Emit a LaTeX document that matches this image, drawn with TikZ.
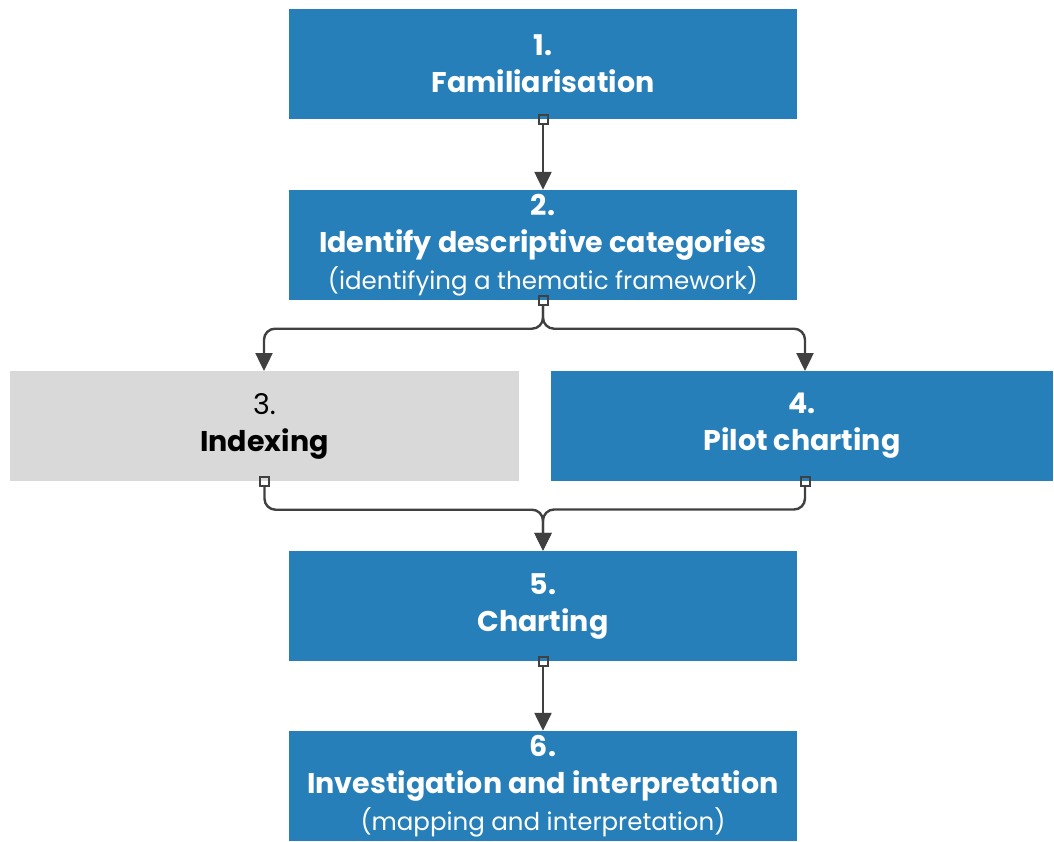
\documentclass[tikz,border=0pt]{standalone}
\usepackage{fontspec}
\setmainfont{Poppins}
\usetikzlibrary{arrows.meta}
\definecolor{stepblue}{RGB}{39,127,185}
\definecolor{stepgray}{RGB}{217,217,217}
\definecolor{linkgray}{RGB}{64,64,64}
\begin{document}
\begin{tikzpicture}[x=1pt,y=-1pt,
  box/.style={minimum width=508pt,minimum height=110pt,inner sep=0pt,
    align=center,font=\fontsize{28.5}{37}\selectfont},
  bluebox/.style={box,fill=stepblue,text=white},
  graybox/.style={box,fill=stepgray,text=black},
  port/.style={draw=linkgray,line width=2pt,minimum size=9pt,inner sep=0pt},
  link/.style={draw=linkgray,line width=2.4pt,rounded corners=11pt,
    -{Triangle[width=17pt,length=18pt]}}]
\useasboundingbox (0,0) rectangle (1054,841);

\node[bluebox] (b1) at (543,64) {\textbf{1.}\\\textbf{Familiarisation}};
\node[bluebox] (b2) at (543,245) {\textbf{2.}\\\textbf{Identify descriptive categories}\\{\fontsize{24.5}{37}\selectfont(identifying a thematic framework)}};
\node[graybox,minimum width=509pt] (b3) at (264.5,426) {3.\\\textbf{Indexing}};
\node[bluebox,minimum width=502pt] (b4) at (802,426) {\textbf{4.}\\\textbf{Pilot charting}};
\node[bluebox] (b5) at (543,606) {\textbf{5.}\\\textbf{Charting}};
\node[bluebox] (b6) at (543,786) {\textbf{6.}\\\textbf{Investigation and interpretation}\\{\fontsize{24.5}{37}\selectfont(mapping and interpretation)}};

% connection ports on the lower edges
\node[port] (p1) at (b1.south) {};
\node[port] (p2) at (b2.south) {};
\node[port] (p3) at (b3.south) {};
\node[port] (p4) at (805,481) {};
\node[port] (p5) at (b5.south) {};

\coordinate (a3) at (264,371);
\coordinate (a4) at (805,371);

\draw[link] (p1) -- (b1.south |- b2.north);
\draw[link] (p2.south) -- ++(0,23) -| (a3);
\draw[link] (p2.south) -- ++(0,23) -| (a4);
\draw[link] (p3.south) -- ++(0,23) -| (b5.north);
\draw[link] (p4.south) -- ++(0,23) -| (b5.north);
\draw[link] (p5) -- (b6.north);
\end{tikzpicture}
\end{document}
